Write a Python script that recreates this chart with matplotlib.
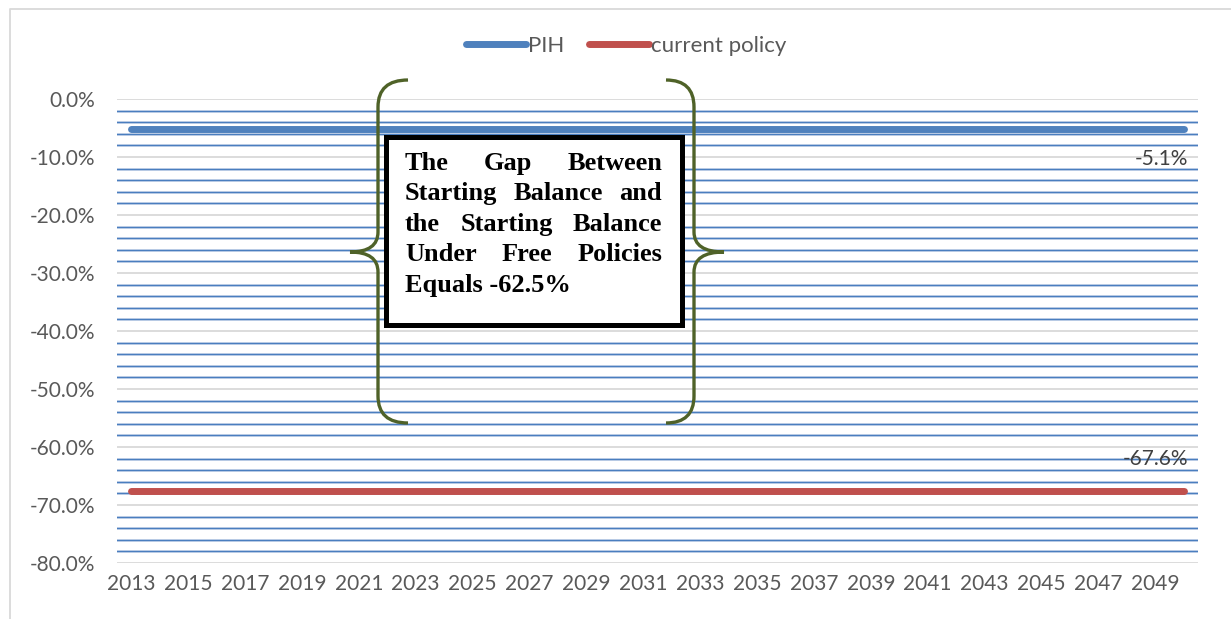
import matplotlib
matplotlib.use('Agg')
import matplotlib.pyplot as plt
import matplotlib.patheffects as pe
from matplotlib.ticker import MultipleLocator, PercentFormatter
from matplotlib.patches import Rectangle, PathPatch
from matplotlib.path import Path
from matplotlib.lines import Line2D
from matplotlib.transforms import Affine2D

# data (both series flat over the whole horizon)
years = [2013, 2014, 2015, 2016, 2017, 2018, 2019, 2020, 2021, 2022,
         2023, 2024, 2025, 2026, 2027, 2028, 2029, 2030, 2031, 2032,
         2033, 2034, 2035, 2036, 2037, 2038, 2039, 2040, 2041, 2042,
         2043, 2044, 2045, 2046, 2047, 2048, 2049, 2050]
pih = [-0.051, -0.051, -0.051, -0.051, -0.051, -0.051, -0.051, -0.051,
       -0.051, -0.051, -0.051, -0.051, -0.051, -0.051, -0.051, -0.051,
       -0.051, -0.051, -0.051, -0.051, -0.051, -0.051, -0.051, -0.051,
       -0.051, -0.051, -0.051, -0.051, -0.051, -0.051, -0.051, -0.051,
       -0.051, -0.051, -0.051, -0.051, -0.051, -0.051]
current_policy = [-0.676, -0.676, -0.676, -0.676, -0.676, -0.676, -0.676,
                  -0.676, -0.676, -0.676, -0.676, -0.676, -0.676, -0.676,
                  -0.676, -0.676, -0.676, -0.676, -0.676, -0.676, -0.676,
                  -0.676, -0.676, -0.676, -0.676, -0.676, -0.676, -0.676,
                  -0.676, -0.676, -0.676, -0.676, -0.676, -0.676, -0.676,
                  -0.676, -0.676, -0.676]
tick_years = years[::2]
gap_lines = ['The Gap Between',
             'Starting Balance and',
             'the Starting Balance',
             'Under Free Policies',
             'Equals -62.5%']

plt.rcParams['font.family'] = ['Lato', 'DejaVu Sans']
plt.rcParams['axes.unicode_minus'] = False

W, H = 1231, 619
fig = plt.figure(figsize=(W / 100, H / 100), dpi=100)
# pixel coordinates of the picture (origin top-left)
pix = Affine2D().scale(1 / W, -1 / H).translate(0, 1) + fig.transFigure

ax = fig.add_axes([117 / W, 1 - 563 / H, (1198 - 117) / W, (563 - 99) / H])
x = list(range(len(years)))
ax.plot(x, pih, color='#4F81BD', lw=5, solid_capstyle='round', label='PIH', zorder=3)
ax.plot(x, current_policy, color='#C0504D', lw=5, solid_capstyle='round',
        label='current policy', zorder=3)

ax.set_xlim(-0.5, len(years) - 0.5)
ax.set_ylim(-0.8, 0)
ax.yaxis.set_major_locator(MultipleLocator(0.1))
ax.yaxis.set_minor_locator(MultipleLocator(0.02))
ax.yaxis.set_major_formatter(PercentFormatter(1.0, decimals=1))
ax.set_xticks(x[::2], [str(y) for y in tick_years])
ax.grid(axis='y', which='major', color='#d9d9d9', lw=1.3)
ax.grid(axis='y', which='minor', color='#4A7EBF', lw=0.9,
        path_effects=[pe.Stroke(linewidth=1.9, foreground='#bccde6'), pe.Normal()])
ax.set_axisbelow(True)
for s in ax.spines.values():
    s.set_visible(False)
ax.tick_params(which='both', length=0, colors='#595959', labelsize=15)
ax.tick_params(axis='y', pad=16)
ax.tick_params(axis='x', pad=8)

# data labels at the last year
ax.annotate(f'{pih[-1] * 100:.1f}%', (x[-1], pih[-1]), xytext=(4, -30),
            textcoords='offset pixels', ha='right', va='center', color='#404040', fontsize=15)
ax.annotate(f'{current_policy[-1] * 100:.1f}%', (x[-1], current_policy[-1]), xytext=(4, 32),
            textcoords='offset pixels', ha='right', va='center', color='#404040', fontsize=15)

fig.legend(loc='center', bbox_to_anchor=(626 / W, 1 - 46 / H), ncol=2, frameon=False,
           fontsize=16, handlelength=2.7, handletextpad=0.1, columnspacing=1.1,
           labelcolor='#595959')

# chart frame
fig.add_artist(Line2D([10, 10, 1240], [630, 8.7, 8.7], transform=pix, color='#d9d9d9', lw=1.3))


# curly braces
def brace(xv, xe, xt, ytop, ymid, ybot, r_end=27, r_tip=20):
    verts = [(xe, ytop), (xv, ytop), (xv, ytop + r_end), (xv, ymid - r_tip),
             (xv, ymid), (xt, ymid), (xv, ymid), (xv, ymid + r_tip),
             (xv, ybot - r_end), (xv, ybot), (xe, ybot)]
    codes = [Path.MOVETO, Path.CURVE3, Path.CURVE3, Path.LINETO,
             Path.CURVE3, Path.CURVE3, Path.CURVE3, Path.CURVE3,
             Path.LINETO, Path.CURVE3, Path.CURVE3]
    fig.add_artist(PathPatch(Path(verts, codes), transform=pix, fc='none',
                             ec='#4F6228', lw=2.4, capstyle='butt'))


brace(378, 408, 350, 80, 252, 423)
brace(694, 666, 724, 80, 252, 423)

# text box
fig.add_artist(Rectangle((385.5, 136.5), 296, 188, transform=pix, fc='white',
                         ec='black', lw=3.6, joinstyle='miter'))

renderer = fig.canvas.get_renderer()
left, right = 405, 662
base0, step = 170, 30.4
for i, line in enumerate(gap_lines):
    yb = base0 + i * step
    if i == len(gap_lines) - 1:
        fig.text(left, yb, line, transform=pix, ha='left', va='baseline',
                 family='Liberation Serif', weight='bold', fontsize=19, color='black')
        continue
    words = line.split()
    texts = [fig.text(0, yb, w, transform=pix, ha='left', va='baseline',
                      family='Liberation Serif', weight='bold', fontsize=19, color='black')
             for w in words]
    widths = [t.get_window_extent(renderer).width for t in texts]
    gap = (right - left - sum(widths)) / (len(words) - 1)
    xpos = left
    for t, w in zip(texts, widths):
        t.set_x(xpos)
        xpos += w + gap

fig.savefig('out.png', dpi=100)
